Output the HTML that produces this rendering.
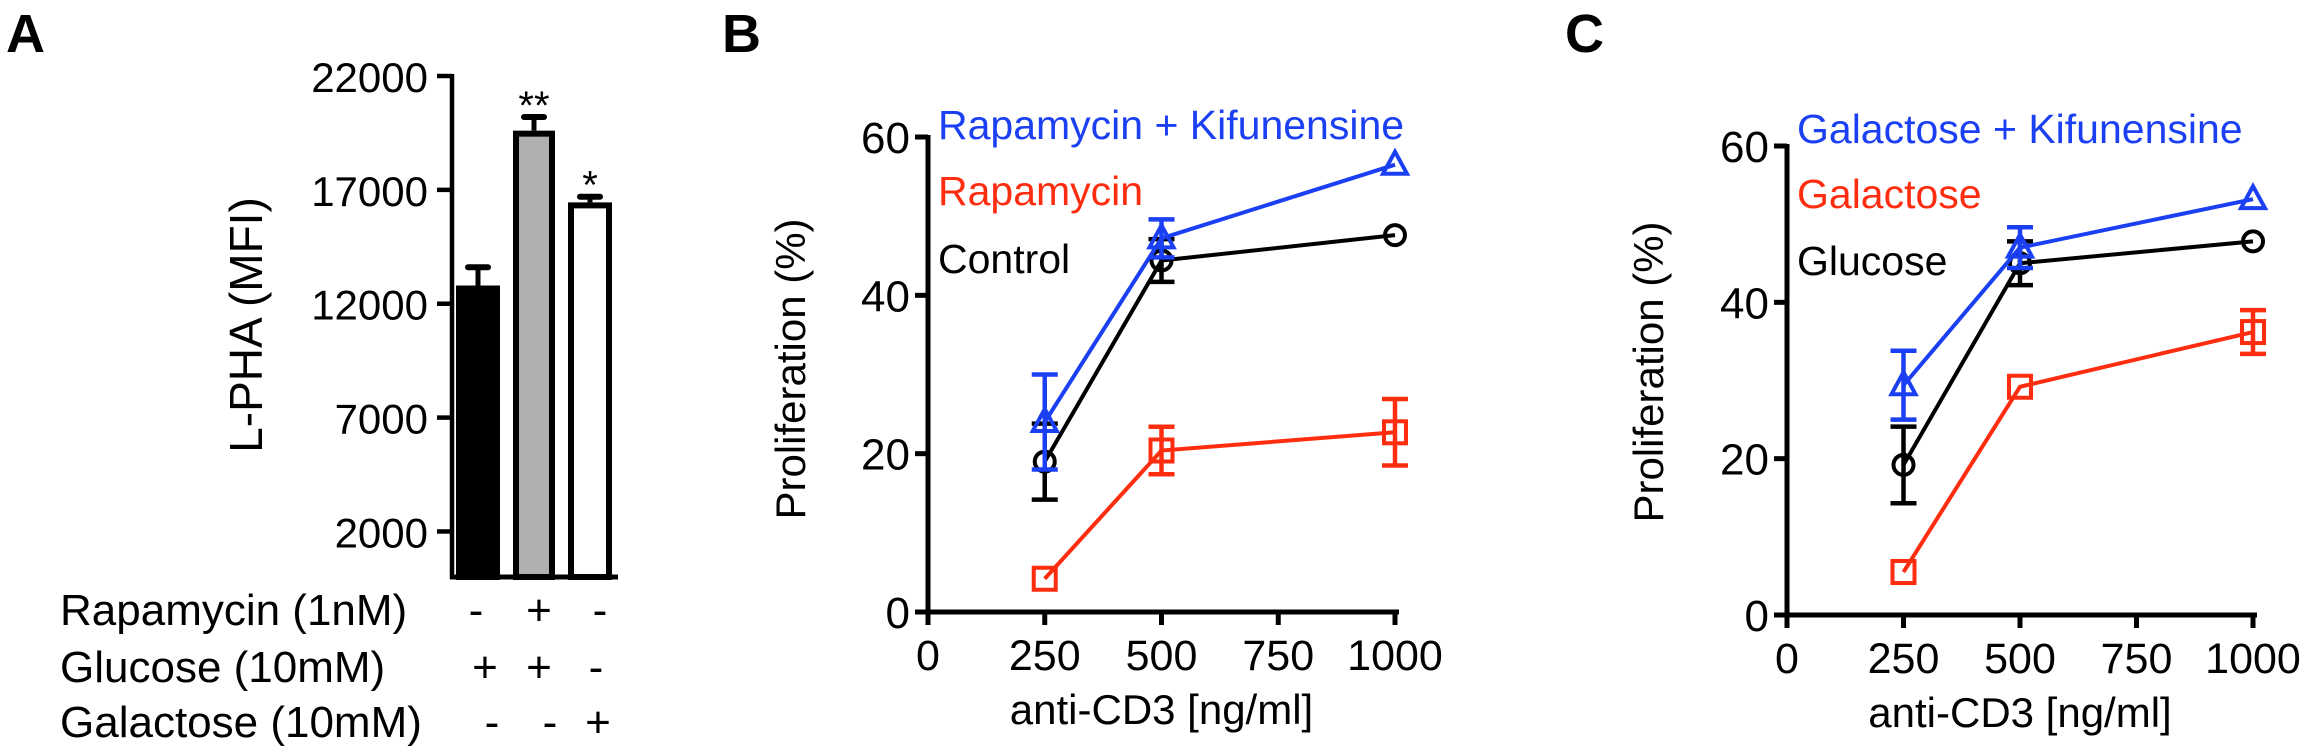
<!DOCTYPE html>
<html><head><meta charset="utf-8"><style>
html,body{margin:0;padding:0;background:#fff;}
svg{display:block;font-family:"Liberation Sans",Arial,sans-serif;}
</style></head><body>
<svg id="fig" width="2308" height="754" viewBox="0 0 2308 754" xmlns="http://www.w3.org/2000/svg">
<g id="pa"></g>
<g id="pb"></g>
<g id="pc"></g>
</svg>
<script>
// Panel A data
const aCategories = ["Control", "Rapamycin", "Galactose"];
const aValues = [12800, 19600, 16450];
const aErrors = [800, 600, 250];
const aTicks = [2000, 7000, 12000, 17000, 22000];
const aStars = ["", "**", "*"];
const aRapa = ["-", "+", "-"];
const aGluc = ["+", "+", "-"];
const aGala = ["-", "-", "+"];
// Panel B data
const xDoses = [250, 500, 1000];
const xTicks = [0, 250, 500, 750, 1000];
const yTicks = [0, 20, 40, 60];
const bControl = [19.0, 44.4, 47.6];
const bControlErr = [4.8, 2.7, 0];
const bRapa = [4.2, 20.4, 22.7];
const bRapaErr = [0, 3.0, 4.2];
const bRapaKif = [24.0, 47.2, 56.5];
const bRapaKifErr = [6.0, 2.4, 0];
// Panel C data
const cGlucose = [19.2, 45.0, 47.8];
const cGlucoseErr = [4.9, 2.8, 0];
const cGalactose = [5.5, 29.2, 36.2];
const cGalactoseErr = [0, 0, 2.8];
const cGalKif = [29.4, 47.0, 53.2];
const cGalKifErr = [4.4, 2.6, 0];

const NS = "http://www.w3.org/2000/svg";
function mk(parent, tag, attrs, text){
  const e = document.createElementNS(NS, tag);
  for (const k in attrs) e.setAttribute(k, attrs[k]);
  if (text !== undefined) e.textContent = text;
  parent.appendChild(e);
  return e;
}
const BLUE = "#1b3ff2", RED = "#ff2d10", BLACK = "#000";

// ---------- Panel A ----------
(function(){
  const g = document.getElementById('pa');
  const y = v => 577 - v * (501 / 22000);
  let e = mk(g, 'text', {x: 6, y: 52, 'font-size': 54, 'font-weight': 'bold'}, 'A');
   
  e = mk(g, 'line', {x1: 452, y1: y(22000) - 2, x2: 452, y2: 579, stroke: BLACK, 'stroke-width': 4.5});
   
  e = mk(g, 'line', {x1: 450, y1: 577, x2: 618, y2: 577, stroke: BLACK, 'stroke-width': 5});
   
  aTicks.forEach(t => {
    const tk = mk(g, 'line', {x1: 437, y1: y(t), x2: 452, y2: y(t), stroke: BLACK, 'stroke-width': 4.5});
     
    const tl = mk(g, 'text', {x: 428, y: y(t) + 16, 'font-size': 42, 'text-anchor': 'end'}, String(t));
     
  });
  e = mk(g, 'text', {x: 0, y: 0, 'font-size': 46, 'text-anchor': 'middle', transform: 'translate(262,325) rotate(-90)'}, 'L-PHA (MFI)');
   
  const centers = [478, 534, 590], ws = [44, 42, 44];
  const fills = ['#000', '#b0b0b0', '#fff'];
  aCategories.forEach((c, i) => {
    const top = y(aValues[i]);
    const w = ws[i];
    const errTop = y(aValues[i] + aErrors[i]);
    const eb = mk(g, 'line', {x1: centers[i], y1: top, x2: centers[i], y2: errTop, stroke: BLACK, 'stroke-width': 5});
     
    const cap = mk(g, 'line', {x1: centers[i] - 10, y1: errTop, x2: centers[i] + 10, y2: errTop, stroke: BLACK, 'stroke-width': 6, 'stroke-linecap': 'round'});
     
    const r = mk(g, 'rect', {x: centers[i] - w/2 + 3, y: top + 3, width: w - 6, height: 577 - top - 3, fill: fills[i], stroke: BLACK, 'stroke-width': 6});
     
    if (aStars[i]) {
      const s = mk(g, 'text', {x: centers[i], y: errTop + 2, 'font-size': 40, 'text-anchor': 'middle'}, aStars[i]);
       
    }
  });
  const rows = [['Rapamycin (1nM)', 625, aRapa, [476, 539, 600]],
                ['Glucose (10mM)', 682, aGluc, [485, 539, 596]],
                ['Galactose (10mM)', 737, aGala, [492, 550, 598]]];
  rows.forEach(r => {
    const t = mk(g, 'text', {x: 60, y: r[1], 'font-size': 44}, r[0]);
     
    r[2].forEach((s, i) => {
      const st = mk(g, 'text', {x: r[3][i], y: r[1], 'font-size': 44, 'text-anchor': 'middle'}, s);
       
    });
  });
})();

// ---------- Line panels ----------
function linePanel(gid, letter, lx, ax, y0, y60, x1000, titleX, legends, series){
  const g = document.getElementById(gid);
  const X = v => ax + v * (x1000 - ax) / 1000;
  const Y = v => y0 - v * (y0 - y60) / 60;
  let e = mk(g, 'text', {x: lx, y: 52, 'font-size': 54, 'font-weight': 'bold'}, letter);
   
  e = mk(g, 'line', {x1: ax, y1: Y(60) - 2, x2: ax, y2: y0 + 2, stroke: BLACK, 'stroke-width': 5});
   
  e = mk(g, 'line', {x1: ax - 2, y1: y0, x2: x1000 + 4, y2: y0, stroke: BLACK, 'stroke-width': 5});
   
  yTicks.forEach(t => {
    const tk = mk(g, 'line', {x1: ax - 13, y1: Y(t), x2: ax, y2: Y(t), stroke: BLACK, 'stroke-width': 5});
     
    const tl = mk(g, 'text', {x: ax - 18, y: Y(t) + 16, 'font-size': 44, 'text-anchor': 'end'}, String(t));
     
  });
  xTicks.forEach(t => {
    const tk = mk(g, 'line', {x1: X(t), y1: y0, x2: X(t), y2: y0 + 13, stroke: BLACK, 'stroke-width': 5});
     
    const tl = mk(g, 'text', {x: X(t), y: y0 + 58, 'font-size': 43, 'text-anchor': 'middle'}, String(t));
     
  });
  e = mk(g, 'text', {x: (ax + x1000) / 2, y: y0 + 112, 'font-size': 42, 'text-anchor': 'middle'}, 'anti-CD3 [ng/ml]');
   
  e = mk(g, 'text', {x: 0, y: 0, 'font-size': 42, 'text-anchor': 'middle', transform: 'translate(' + titleX + ',' + (y0 - 243) + ') rotate(-90)'}, 'Proliferation (%)');
   
  legends.forEach(l => {
    const t = mk(g, 'text', {x: ax + 10, y: l[1], 'font-size': 41, fill: l[2]}, l[0]);
     
  });
  series.forEach(s => {
    const sg = mk(g, 'g', {});
     
    const pts = xDoses.map((d, i) => X(d) + ',' + Y(s.vals[i])).join(' ');
    const pl = mk(sg, 'polyline', {points: pts, fill: 'none', stroke: s.color, 'stroke-width': 4});
     
    xDoses.forEach((d, i) => {
      const cx = X(d), cy = Y(s.vals[i]), er = s.errs[i];
      if (er > 0) {
        const a = Y(s.vals[i] + er), b = Y(s.vals[i] - er);
        const el = mk(sg, 'path', {d: 'M' + cx + ',' + a + 'V' + b + 'M' + (cx - 13) + ',' + a + 'H' + (cx + 13) + 'M' + (cx - 13) + ',' + b + 'H' + (cx + 13), stroke: s.color, 'stroke-width': 4.5, fill: 'none'});
         
      }
      let m;
      if (s.marker === 'circle') m = mk(sg, 'circle', {cx: cx, cy: cy, r: 10, fill: 'none', stroke: s.color, 'stroke-width': 4});
      else if (s.marker === 'square') m = mk(sg, 'rect', {x: cx - 11, y: cy - 11, width: 22, height: 22, fill: 'none', stroke: s.color, 'stroke-width': 4});
      else m = mk(sg, 'path', {d: 'M' + cx + ',' + (cy - 13) + 'L' + (cx + 12) + ',' + (cy + 9) + 'L' + (cx - 12) + ',' + (cy + 9) + 'Z', fill: 'none', stroke: s.color, 'stroke-width': 4});
       
    });
  });
}
linePanel('pb', 'B', 722, 928, 612, 137, 1395, 805,
  [['Rapamycin + Kifunensine', 139, BLUE], ['Rapamycin', 205, RED], ['Control', 273, BLACK]],
  [{name: 'control', vals: bControl, errs: bControlErr, color: BLACK, marker: 'circle'},
   {name: 'rapamycin', vals: bRapa, errs: bRapaErr, color: RED, marker: 'square'},
   {name: 'rapamycin-kifunensine', vals: bRapaKif, errs: bRapaKifErr, color: BLUE, marker: 'triangle'}]);
linePanel('pc', 'C', 1565, 1787, 615, 146, 2253, 1663,
  [['Galactose + Kifunensine', 143, BLUE], ['Galactose', 208, RED], ['Glucose', 275, BLACK]],
  [{name: 'glucose', vals: cGlucose, errs: cGlucoseErr, color: BLACK, marker: 'circle'},
   {name: 'galactose', vals: cGalactose, errs: cGalactoseErr, color: RED, marker: 'square'},
   {name: 'galactose-kifunensine', vals: cGalKif, errs: cGalKifErr, color: BLUE, marker: 'triangle'}]);
</script>
</body></html>
